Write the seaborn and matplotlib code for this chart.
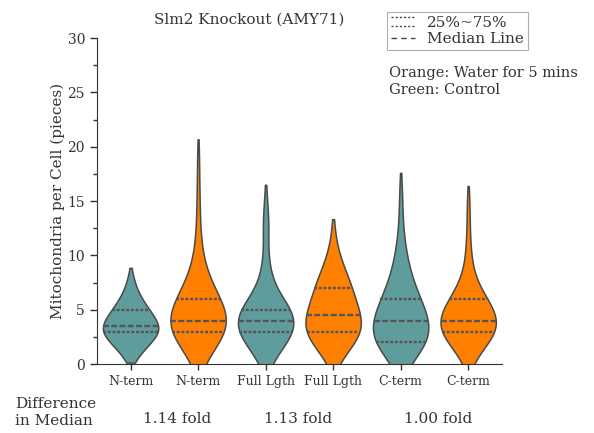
import numpy as np
import pandas as pd
import matplotlib
matplotlib.use("Agg")
import matplotlib.pyplot as plt
from matplotlib.lines import Line2D
from matplotlib.legend_handler import HandlerBase
from matplotlib.ticker import MultipleLocator, AutoMinorLocator
import seaborn as sns

# ---- data: number of cells having 1, 2, 3 ... mitochondria ----
n_pieces = np.arange(1, 20)
nterm_ctrl = [4, 7, 13, 10, 7, 4, 2, 1]
nterm_water = [3, 7, 11, 12, 8, 8, 4, 3, 2, 1, 1, 1, 0, 1, 0, 1, 0, 0, 1]
full_ctrl = [4, 7, 11, 12, 11, 4, 2, 2, 1, 1, 0, 1, 2, 0, 1]
full_water = [3, 6, 8, 8, 6, 5, 5, 4, 2, 2, 0, 1]
cterm_ctrl = [6, 11, 9, 9, 7, 6, 4, 3, 2, 2, 1, 1, 0, 1, 0, 1]
cterm_water = [3, 7, 11, 12, 8, 7, 3, 2, 1, 1, 1, 0, 1, 0, 1]

group_labels = ["N-term", "N-term", "Full Lgth", "Full Lgth", "C-term", "C-term"]
treatments = ["Control", "Water", "Control", "Water", "Control", "Water"]
fold_labels = ["1.14 fold", "1.13 fold", "1.00 fold"]

all_counts = [nterm_ctrl, nterm_water, full_ctrl, full_water, cterm_ctrl, cterm_water]

frames = []
for i, (t, c) in enumerate(zip(treatments, all_counts)):
    vals = np.repeat(n_pieces[:len(c)], c)
    frames.append(pd.DataFrame({"slot": i, "treat": t, "pieces": vals}))
df = pd.concat(frames, ignore_index=True)

# ---- style ----
sns.set_style("ticks")
plt.rcParams["font.family"] = ["DejaVu Serif"]
txt_col = "#333333"
plt.rcParams["text.color"] = txt_col
plt.rcParams["axes.labelcolor"] = txt_col
plt.rcParams["xtick.color"] = txt_col
plt.rcParams["ytick.color"] = txt_col
plt.rcParams["axes.edgecolor"] = txt_col

pal = {"Control": "#5F9C9C", "Water": "#FF8000"}

fig = plt.figure(figsize=(5.94, 4.33), dpi=100)
ax = fig.add_axes([0.163, 0.159, 0.682, 0.753])

sns.violinplot(data=df, x="slot", y="pieces", hue="treat", palette=pal,
               dodge=False, cut=0.9, bw_adjust=1.25, density_norm="width",
               width=0.82, inner="quart", linecolor="#4a4a4a", linewidth=1.1,
               inner_kws={"linewidth": 1.7, "color": "#555555"},
               saturation=1, legend=False, ax=ax)

ax.set_ylim(0, 30)
ax.set_xlim(-0.5, 5.5)
ax.yaxis.set_major_locator(MultipleLocator(5))
ax.yaxis.set_minor_locator(AutoMinorLocator(2))
ax.tick_params(axis="y", which="major", length=5, width=1, labelsize=10)
ax.tick_params(axis="y", which="minor", length=3, width=1)
ax.tick_params(axis="x", length=4, width=1, labelsize=9)
ax.set_xticks(range(len(group_labels)))
ax.set_xticklabels(group_labels)
ax.set_xlabel("")
ax.set_ylabel("Mitochondria per Cell (pieces)", fontsize=11, labelpad=2)
sns.despine(ax=ax)

# ---- title & notes ----
fig.text(0.42, 0.955, "Slm2 Knockout (AMY71)", ha="center", va="center", fontsize=11)
fig.text(0.655, 0.832, "Orange: Water for 5 mins", ha="left", va="center", fontsize=10.5)
fig.text(0.655, 0.792, "Green: Control", ha="left", va="center", fontsize=10.5)

fig.text(0.025, 0.047, "Difference\nin Median", ha="left", va="center",
         fontsize=11, linespacing=1.3)
for xpos, lab in zip([0.298, 0.501, 0.737], fold_labels):
    fig.text(xpos, 0.032, lab, ha="center", va="center", fontsize=11)


# legend: two dotted lines for the quartiles, one dashed for the median
class TwoLines(HandlerBase):
    def create_artists(self, legend, orig, xd, yd, w, h, fontsize, trans):
        out = []
        for yy in (0.95 * h, 0.05 * h):
            ln = Line2D([-xd, -xd + w], [yy - yd, yy - yd], color="#444444",
                        linestyle=(0, (1.5, 1.5)), linewidth=1.0, transform=trans)
            out.append(ln)
        return out


quart_h = Line2D([], [], color="#444444", linestyle=":")
med_h = Line2D([], [], color="#444444", linestyle=(0, (4, 3)), linewidth=1.0)
leg = ax.legend([quart_h, med_h], ["25%~75%", "Median Line"],
                handler_map={quart_h: TwoLines()},
                loc="upper left", bbox_to_anchor=(0.651, 0.972),
                bbox_transform=fig.transFigure, borderaxespad=0,
                fontsize=11, handlelength=1.6, handletextpad=0.8,
                labelspacing=0.15, borderpad=0.25, fancybox=False, frameon=True)
leg.get_frame().set_edgecolor("#999999")
leg.get_frame().set_linewidth(0.8)

fig.savefig("out.png", dpi=100)
